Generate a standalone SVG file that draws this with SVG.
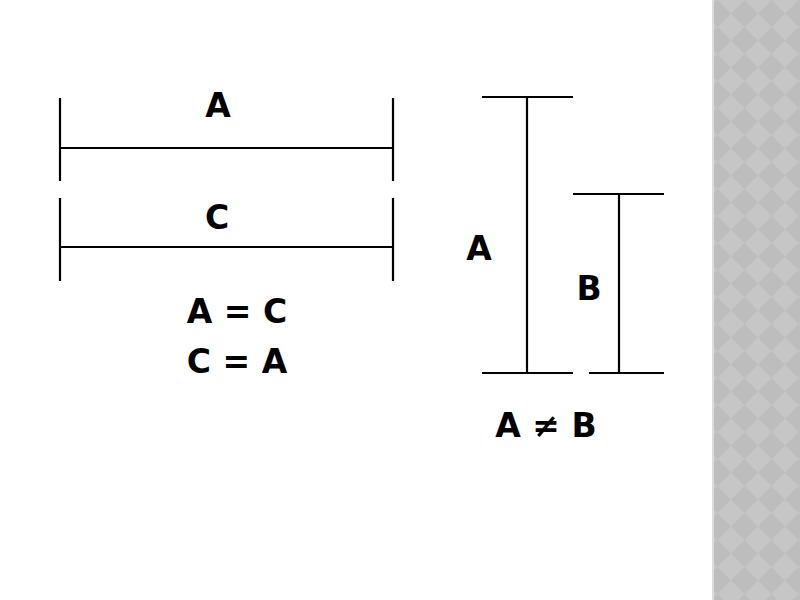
<svg xmlns="http://www.w3.org/2000/svg" width="800" height="600" viewBox="0 0 800 600">
  <style>
    .ln { stroke: #000; stroke-width: 2.2; fill: none; stroke-linecap: butt; }
    .lbl { font-family: "DejaVu Sans", "Liberation Sans", sans-serif; font-weight: bold; font-size: 33px; fill: #000; }
  </style>
  <defs>
    <pattern id="chk" x="704" y="0" width="27" height="27" patternUnits="userSpaceOnUse">
      <rect width="27" height="27" fill="#c6c6c6"/>
      <polygon points="13.5,0 27,13.5 13.5,27 0,13.5" fill="#bdbdbd"/>
    </pattern>
  </defs>
  <rect width="800" height="600" fill="#ffffff"/>
  <g id="side-panel">
    <rect x="713" y="0" width="87" height="600" fill="url(#chk)"/>
    <rect x="712" y="0" width="2" height="600" fill="#dcdcdc"/>
  </g>

  <g id="connectors">
    <line class="ln" x1="60" y1="98" x2="60" y2="181"/>
    <line class="ln" x1="393" y1="98" x2="393" y2="181"/>
    <line class="ln" x1="60" y1="148" x2="393" y2="148"/>
    <line class="ln" x1="60" y1="198" x2="60" y2="281"/>
    <line class="ln" x1="393" y1="198" x2="393" y2="281"/>
    <line class="ln" x1="60" y1="247" x2="393" y2="247"/>
    <line class="ln" x1="482" y1="97" x2="573" y2="97"/>
    <line class="ln" x1="527" y1="97" x2="527" y2="373"/>
    <line class="ln" x1="482" y1="373" x2="573" y2="373"/>
    <line class="ln" x1="573" y1="194" x2="664" y2="194"/>
    <line class="ln" x1="619" y1="194" x2="619" y2="373"/>
    <line class="ln" x1="589" y1="373" x2="664" y2="373"/>
  </g>

  <g id="label-A-top"><text class="lbl" x="218" y="117" text-anchor="middle">A</text></g>
  <g id="label-C"><text class="lbl" x="217" y="229" text-anchor="middle">C</text></g>
  <g id="eq1"><text class="lbl" x="237" y="323" text-anchor="middle" xml:space="preserve">A = C</text></g>
  <g id="eq2"><text class="lbl" x="237" y="373" text-anchor="middle" xml:space="preserve">C = A</text></g>
  <g id="label-A-right"><text class="lbl" x="479" y="260" text-anchor="middle">A</text></g>
  <g id="label-B"><text class="lbl" x="589" y="300" text-anchor="middle">B</text></g>
  <g id="neq"><text class="lbl" x="546" y="437" text-anchor="middle" xml:space="preserve">A ≠ B</text></g>
</svg>
